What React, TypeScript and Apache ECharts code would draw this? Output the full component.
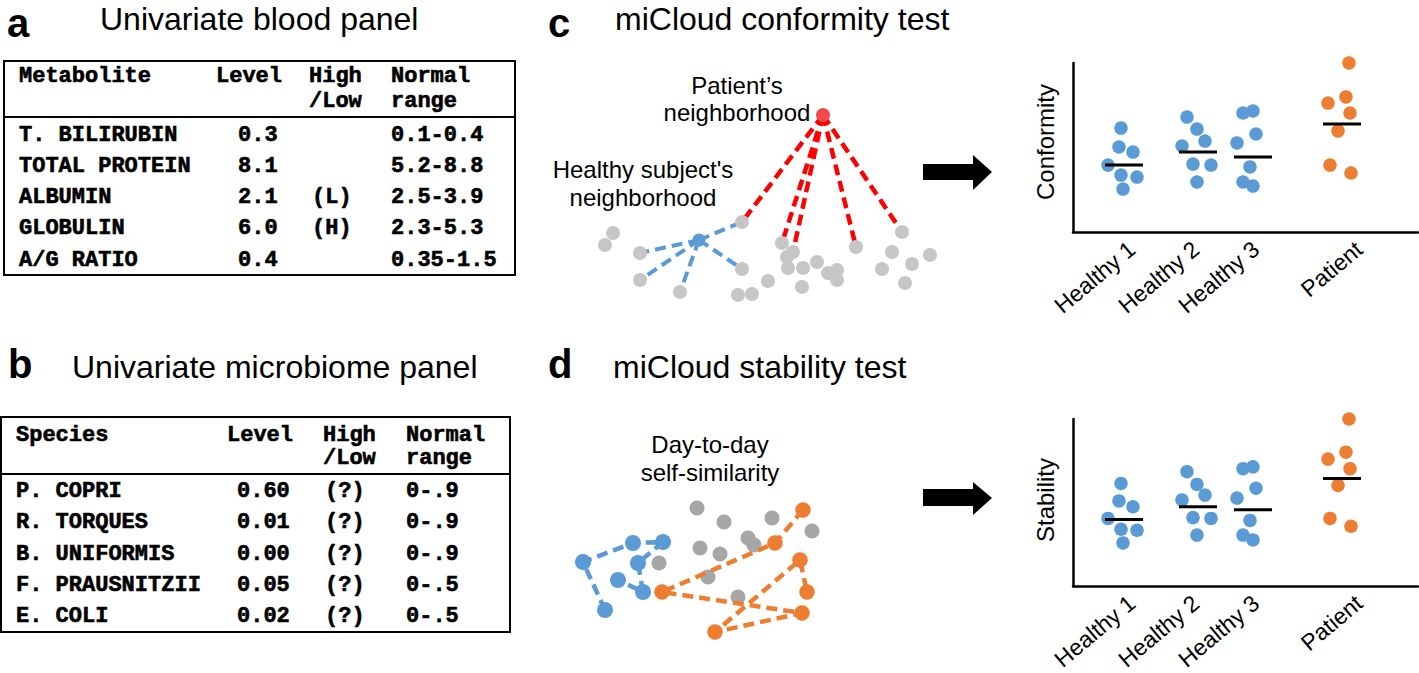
import React, { useEffect, useRef } from "react";
import * as echarts from "echarts";

const W = 1419;
const H = 673;

// ---------- Panel a: univariate blood panel ----------
const bloodHeader = ["Metabolite", "Level", "High", "Normal"];
const bloodHeader2 = ["", "", "/Low", "range"];
const metabolites = ["T. BILIRUBIN", "TOTAL PROTEIN", "ALBUMIN", "GLOBULIN", "A/G RATIO"];
const metaboliteLevels = ["0.3", "8.1", "2.1", "6.0", "0.4"];
const metaboliteFlags = ["", "", "(L)", "(H)", ""];
const metaboliteRanges = ["0.1-0.4", "5.2-8.8", "2.5-3.9", "2.3-5.3", "0.35-1.5"];

// ---------- Panel b: univariate microbiome panel ----------
const microHeader = ["Species", "Level", "High", "Normal"];
const microHeader2 = ["", "", "/Low", "range"];
const species = ["P. COPRI", "R. TORQUES", "B. UNIFORMIS", "F. PRAUSNITZII", "E. COLI"];
const speciesLevels = ["0.60", "0.01", "0.00", "0.05", "0.02"];
const speciesFlags = ["(?)", "(?)", "(?)", "(?)", "(?)"];
const speciesRanges = ["0-.9", "0-.9", "0-.9", "0-.5", "0-.5"];

// ---------- Panels c/d: dot plots ----------
const groups = ["Healthy 1", "Healthy 2", "Healthy 3", "Patient"];
const groupCenters = [51, 125, 180, 269];
const labelTicks = [59, 123, 183, 286];
const jitter = [
  [-3, -5, 9, -16, -3, 13, -1],
  [-11, -1, 7, -16, -5, 13, -1],
  [-10, 0, 3, -16, -3, -10, 0],
  [7, 4, -14, 8, -4, -12, 9],
];
const conformity = [
  [6.15, 5.03, 4.73, 3.96, 3.37, 3.25, 2.54],
  [6.8, 6.09, 5.38, 5.09, 4.02, 3.96, 2.96],
  [7.04, 7.16, 5.8, 5.27, 3.85, 2.96, 2.72],
  [10.0, 7.99, 7.63, 7.04, 5.98, 3.96, 3.49],
];
const conformityMean = [3.96, 4.73, 4.44, 6.39];
const stability = [
  [6.14, 5.09, 4.74, 4.04, 3.39, 3.33, 2.57],
  [6.84, 6.08, 5.44, 5.15, 4.09, 4.04, 3.04],
  [7.02, 7.13, 5.85, 5.26, 3.92, 3.04, 2.75],
  [10.0, 8.01, 7.6, 7.02, 6.02, 4.04, 3.57],
];
const stabilityMean = [3.98, 4.74, 4.56, 6.43];

// ---------- Panel c: neighborhood network ----------
const cGray = [
  [202, 162], [73, 173], [65, 185], [100, 193], [100, 220], [140, 232], [202, 209],
  [242, 183], [253, 192], [247, 197], [248, 208], [263, 208], [277, 202], [228, 221],
  [262, 227], [198, 235], [212, 234], [288, 213], [297, 210], [297, 220], [316, 187],
  [362, 172], [352, 192], [342, 209], [372, 204], [365, 223], [390, 195],
];
const cPatient = [283, 55];
const cHealthy = [159, 180];
const cPatientLinks = [0, 7, 8, 20, 21];
const cHealthyLinks = [0, 3, 4, 5, 6];

// ---------- Panel d: day-to-day trajectories ----------
const dBlueChain = [[65, 190], [43, 142], [93, 123], [123, 122], [98, 143], [103, 172], [78, 160]];
const dOrangeChain = [[263, 90], [235, 123], [122, 172], [262, 193], [175, 212], [260, 140], [267, 172]];
const dGray = [
  [157, 88], [184, 102], [232, 98], [272, 111], [208, 118], [214, 125], [160, 128],
  [180, 134], [119, 143], [168, 157], [198, 177],
];

const BLUE = "#5b9bd5";
const ORANGE = "#ed7d31";
const RED_LINE = "#ff0000";
const RED_NODE = "#f24b4b";
const GRAY_C = "#c6c6c6";
const GRAY_D = "#a6a6a6";
const SANS = '"Liberation Sans", Arial, sans-serif';
const MONO = '"Liberation Mono", "Courier New", monospace';

function txt(text: string, x: number, y: number, font: string, align = "left", extra: any = {}, heavy = 0) {
  const style: any = {
    text,
    font,
    fill: "#000",
    textAlign: align,
    textVerticalAlign: "middle",
  };
  if (heavy > 0) {
    style.stroke = "#000";
    style.lineWidth = heavy;
  }
  return { type: "text", x, y, silent: true, ...extra, style };
}

function tableGraphics(cfg: any) {
  const els: any[] = [];
  els.push({
    type: "rect",
    shape: { x: cfg.x, y: cfg.y, width: cfg.w, height: cfg.h },
    style: { fill: "none", stroke: "#000", lineWidth: 2 },
    silent: true,
  });
  els.push({
    type: "line",
    shape: { x1: cfg.x, y1: cfg.divY, x2: cfg.x + cfg.w, y2: cfg.divY },
    style: { stroke: "#000", lineWidth: 2 },
    silent: true,
  });
  const font = `bold 22px ${MONO}`;
  cfg.header.forEach((t: string, i: number) => {
    if (t) els.push(txt(t, cfg.headerX[i], cfg.headerY[0], font, "left", {}, 0.6));
  });
  cfg.header2.forEach((t: string, i: number) => {
    if (t) els.push(txt(t, cfg.headerX[i], cfg.headerY[1], font, "left", {}, 0.6));
  });
  cfg.columns.forEach((col: string[], c: number) => {
    col.forEach((t: string, r: number) => {
      if (t) els.push(txt(t, cfg.colX[c], cfg.rowY[r], font, "left", {}, 0.6));
    });
  });
  return els;
}

function buildOption() {
  const plotX = (gi: number) => ({
    type: "value",
    gridIndex: gi,
    min: 0,
    max: 345,
    axisLine: { show: true, onZero: false, lineStyle: { color: "#000", width: 2.5 } },
    axisTick: { show: false },
    splitLine: { show: false },
    axisLabel: {
      customValues: labelTicks,
      formatter: (v: number) => {
        const i = labelTicks.indexOf(v);
        return i >= 0 ? groups[i] : "";
      },
      rotate: 40,
      margin: 14,
      fontSize: 23,
      fontFamily: SANS,
      color: "#000",
    },
  });
  const plotY = (gi: number) => ({
    type: "value",
    gridIndex: gi,
    min: 0,
    max: 10,
    axisLine: { show: true, lineStyle: { color: "#000", width: 2.5 } },
    axisTick: { show: false },
    axisLabel: { show: false },
    splitLine: { show: false },
  });
  const hiddenX = (gi: number, max: number) => ({ type: "value", gridIndex: gi, min: 0, max, show: false, splitLine: { show: false } });
  const hiddenY = (gi: number, max: number) => ({ type: "value", gridIndex: gi, min: 0, max, inverse: true, show: false, splitLine: { show: false } });

  const plotSeries = (gi: number, values: number[][], means: number[]) => {
    const healthy: number[][] = [];
    const patient: number[][] = [];
    values.forEach((arr, g) =>
      arr.forEach((v, i) => (g < 3 ? healthy : patient).push([groupCenters[g] + jitter[g][i], v]))
    );
    return [
      {
        type: "scatter", xAxisIndex: gi, yAxisIndex: gi, data: healthy, symbolSize: 13.5, clip: false, silent: true,
        itemStyle: { color: BLUE, opacity: 1 }, z: 3,
      },
      {
        type: "scatter", xAxisIndex: gi, yAxisIndex: gi, data: patient, symbolSize: 13.5, clip: false, silent: true,
        itemStyle: { color: ORANGE, opacity: 1 }, z: 3,
      },
      {
        type: "scatter", xAxisIndex: gi, yAxisIndex: gi, data: means.map((m, g) => [groupCenters[g], m]),
        symbol: "rect", symbolSize: [38, 3], clip: false, silent: true,
        itemStyle: { color: "#000", opacity: 1 }, z: 4,
      },
    ];
  };

  const dash = [11, 6];
  const series: any[] = [
    ...plotSeries(0, conformity, conformityMean),
    ...plotSeries(1, stability, stabilityMean),
    // panel c network
    {
      type: "lines", coordinateSystem: "cartesian2d", xAxisIndex: 2, yAxisIndex: 2, silent: true, z: 2,
      data: cHealthyLinks.map((i) => ({ coords: [cHealthy, cGray[i]] })),
      lineStyle: { color: BLUE, width: 4, type: dash, opacity: 1 },
    },
    {
      type: "lines", coordinateSystem: "cartesian2d", xAxisIndex: 2, yAxisIndex: 2, silent: true, z: 2,
      data: cPatientLinks.map((i) => ({ coords: [cPatient, cGray[i]] })),
      lineStyle: { color: RED_LINE, width: 4.5, type: dash, opacity: 1 },
    },
    {
      type: "scatter", xAxisIndex: 2, yAxisIndex: 2, data: cGray, symbolSize: 14, silent: true, z: 3,
      itemStyle: { color: GRAY_C, opacity: 1 },
    },
    {
      type: "scatter", xAxisIndex: 2, yAxisIndex: 2, data: [cHealthy], symbolSize: 13, silent: true, z: 4,
      itemStyle: { color: BLUE, opacity: 1 },
    },
    {
      type: "scatter", xAxisIndex: 2, yAxisIndex: 2, data: [cPatient], symbolSize: 14, silent: true, z: 4,
      itemStyle: { color: RED_NODE, opacity: 1 },
    },
    // panel d network
    {
      type: "scatter", xAxisIndex: 3, yAxisIndex: 3, data: dGray, symbolSize: 15, silent: true, z: 2,
      itemStyle: { color: GRAY_D, opacity: 1 },
    },
    {
      type: "lines", coordinateSystem: "cartesian2d", xAxisIndex: 3, yAxisIndex: 3, polyline: true, silent: true, z: 3,
      data: [{ coords: dBlueChain }],
      lineStyle: { color: BLUE, width: 4.5, type: dash, opacity: 1 },
    },
    {
      type: "lines", coordinateSystem: "cartesian2d", xAxisIndex: 3, yAxisIndex: 3, polyline: true, silent: true, z: 3,
      data: [{ coords: dOrangeChain }],
      lineStyle: { color: ORANGE, width: 4.5, type: dash, opacity: 1 },
    },
    {
      type: "scatter", xAxisIndex: 3, yAxisIndex: 3, data: dBlueChain, symbolSize: 16, silent: true, z: 4,
      itemStyle: { color: BLUE, opacity: 1 },
    },
    {
      type: "scatter", xAxisIndex: 3, yAxisIndex: 3, data: dOrangeChain, symbolSize: 15.5, silent: true, z: 4,
      itemStyle: { color: ORANGE, opacity: 1 },
    },
  ];

  const letterFont = `bold 40px ${SANS}`;
  const titleFont = `32px ${SANS}`;
  const labelFont = `24px ${SANS}`;

  const graphics: any[] = [
    txt("a", 7, 23, letterFont),
    txt("Univariate blood panel", 100, 19, titleFont),
    txt("b", 8, 364, letterFont),
    txt("Univariate microbiome panel", 72, 367, titleFont),
    txt("c", 548, 23, letterFont),
    txt("miCloud conformity test", 615, 19, titleFont),
    txt("d", 548, 364, letterFont),
    txt("miCloud stability test", 613, 367, titleFont),
    ...tableGraphics({
      x: 4, y: 61, w: 511, h: 214, divY: 117,
      header: bloodHeader, header2: bloodHeader2, headerX: [19, 216, 309, 391], headerY: [76.5, 101.5],
      columns: [metabolites, metaboliteLevels, metaboliteFlags, metaboliteRanges],
      colX: [19, 238, 312, 391], rowY: [135, 166, 197, 228, 260],
    }),
    ...tableGraphics({
      x: 1, y: 417, w: 509, h: 215, divY: 474,
      header: microHeader, header2: microHeader2, headerX: [16, 227, 323, 406], headerY: [435, 458.5],
      columns: [species, speciesLevels, speciesFlags, speciesRanges],
      colX: [16, 237, 325, 406], rowY: [491.5, 522.5, 554, 585, 616],
    }),
    txt("Patient\u2019s", 737, 85, labelFont, "center"),
    txt("neighborhood", 737, 112, labelFont, "center"),
    txt("Healthy subject's", 643, 169, labelFont, "center"),
    txt("neighborhood", 643, 197, labelFont, "center"),
    txt("Day-to-day", 710, 444, labelFont, "center"),
    txt("self-similarity", 710, 472, labelFont, "center"),
    txt("Conformity", 1045, 142, labelFont, "center", { rotation: Math.PI / 2 }),
    txt("Stability", 1045, 500, labelFont, "center", { rotation: Math.PI / 2 }),
    {
      type: "polygon", silent: true,
      shape: { points: [[923, 164], [973, 164], [973, 155], [992, 172], [973, 190], [973, 180], [923, 180]] },
      style: { fill: "#000" },
    },
    {
      type: "polygon", silent: true,
      shape: { points: [[923, 489], [973, 489], [973, 482], [992, 498], [973, 515], [973, 506], [923, 506]] },
      style: { fill: "#000" },
    },
  ];

  return {
    animation: false,
    backgroundColor: "#fff",
    grid: [
      { left: 1073, top: 63, width: 345, height: 169 },
      { left: 1073, top: 419, width: 345, height: 171 },
      { left: 540, top: 60, width: 420, height: 260 },
      { left: 540, top: 420, width: 420, height: 230 },
    ],
    xAxis: [plotX(0), plotX(1), hiddenX(2, 420), hiddenX(3, 420)],
    yAxis: [plotY(0), plotY(1), hiddenY(2, 260), hiddenY(3, 230)],
    series,
    graphic: { elements: graphics },
  };
}

export default function App() {
  const ref = useRef<HTMLDivElement>(null);
  useEffect(() => {
    if (!ref.current) return;
    const chart = echarts.init(ref.current, null, { renderer: "svg" });
    chart.setOption(buildOption() as any);
    return () => chart.dispose();
  }, []);
  return (
    <div
      ref={ref}
      style={{ position: "absolute", left: 0, top: 0, width: W, height: H, background: "#fff" }}
    />
  );
}
